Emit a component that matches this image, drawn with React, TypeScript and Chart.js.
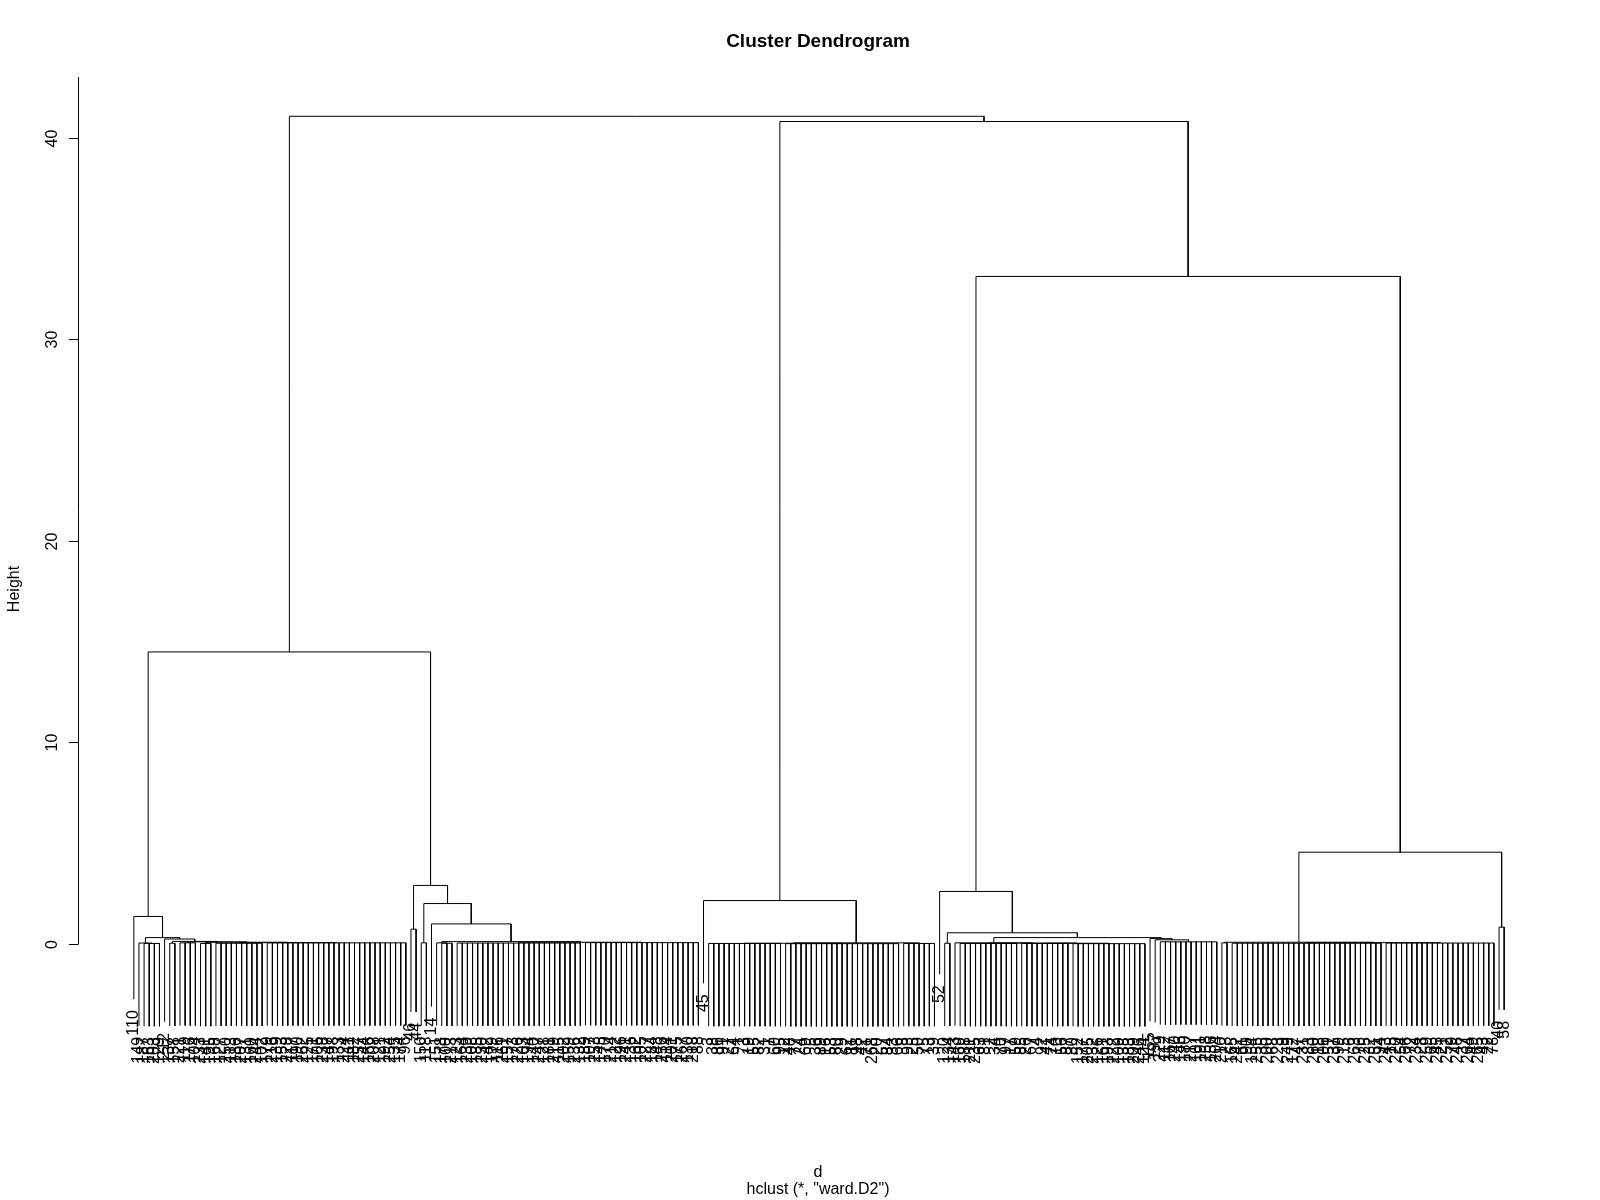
import React, { useEffect, useRef } from "react";
import { Chart, registerables } from "chart.js";

Chart.register(...registerables);

// A node is [height, ...children]; a numeric child = that many leaves hanging from the node.
type Spec = (number | Spec)[];

const yTicks = [0, 10, 20, 30, 40];
const yRange = [-7.9, 43.03];
const hangFraction = 0.1;

const titleText = "Cluster Dendrogram";
const xLabel = "d";
const subLabel = 'hclust (*, "ward.D2")';
const yLabel = "Height";

// near-zero clusters
const clusterA1: Spec = [0.04, 1, [0.02, 4]];
const clusterA3: Spec = [0.12, [0.03, 2], [0.1, [0.05, 4], [0.08, [0.02, 3], [0.06, [0.03, 10], [0.05, 28]]]]];
const clusterB: Spec = [0.11, [0.05, 1, [0.03, 3]], [0.08, [0.04, 25], [0.06, 23]]];
const clusterC: Spec = [0.05, [0.03, [0.02, 15], [0.01, 23]], [0.02, 7]];
const clusterD: Spec = [0.05, 1, [0.04, [0.02, 12], [0.03, [0.02, 10], [0.01, 15]]]];
const clusterE: Spec = [0.26, 1, [0.2, 1, [0.1, 12]]];
const clusterF: Spec = [0.08, [0.05, 2], [0.06, [0.03, 30], [0.04, 22]]];

// upper merges
const leftBranch: Spec = [14.49,
  [1.36, 1, [0.31, clusterA1, [0.24, 1, clusterA3]]],
  [2.9, [0.73, 2], [2.0, [0.05, 2], [0.99, 1, clusterB]]]];
const rightBranch: Spec = [40.82,
  [2.15, 1, clusterC],
  [33.13,
    [2.6, 1, [0.55, [0.03, 2], [0.31, clusterD, clusterE]]],
    [4.55, clusterF, [0.83, 2]]]];
const tree: Spec = [41.08, leftBranch, rightBranch];

// leaf labels, left to right
const labelsGroup1 = [110, 149, 187, 163, 203, 129, 212];
const labelsA3 = [137, 158, 221, 119, 176, 104, 233, 141, 195, 168, 127, 250, 113, 186, 207, 131, 160, 244, 102, 179, 216, 139, 153, 228, 117, 190, 262, 125, 171, 106, 238, 147, 198, 133, 224, 111, 182, 257, 144, 166, 208, 121, 192, 254, 135, 174, 96];
const labelsGroup2 = [46, 44, 150, 118, 14];
const labelsB = [151, 178, 100, 213, 123, 164, 239, 108, 185, 230, 142, 199, 116, 261, 157, 173, 226, 103, 194, 140, 247, 128, 181, 219, 115, 202, 159, 236, 132, 189, 107, 253, 145, 170, 214, 122, 196, 241, 136, 162, 105, 227, 184, 148, 256, 114, 201, 175, 267, 130, 218, 88];
const labelsGroup3 = [45];
const labelsC = [3, 38, 86, 91, 27, 64, 1, 73, 19, 55, 82, 31, 7, 60, 95, 12, 48, 77, 24, 69, 5, 36, 89, 16, 53, 80, 29, 62, 11, 98, 42, 71, 268, 20, 57, 84, 33, 66, 8, 93, 25, 50, 75, 13, 39];
const labelsGroup4 = [52, 120, 134];
const labelsD = [143, 169, 188, 211, 235, 63, 81, 2, 34, 70, 97, 17, 59, 85, 26, 67, 4, 92, 41, 74, 10, 56, 87, 30, 152, 177, 205, 232, 126, 161, 193, 222, 109, 138, 183, 209, 246, 124];
const labelsE = [155, 197, 229, 112, 167, 240, 146, 180, 217, 101, 191, 258, 156, 204];
const labelsF = [210, 23, 165, 242, 61, 90, 154, 255, 35, 200, 68, 223, 9, 249, 172, 47, 231, 83, 260, 18, 206, 51, 237, 99, 215, 6, 263, 76, 225, 32, 251, 94, 243, 15, 220, 54, 266, 72, 234, 28, 259, 65, 245, 21, 252, 79, 248, 37, 264, 49, 265, 43, 22, 78];
const labelsGroup5 = [40, 58];

const leafLabels = [
  ...labelsGroup1, ...labelsA3, ...labelsGroup2, ...labelsB, ...labelsGroup3,
  ...labelsC, ...labelsGroup4, ...labelsD, ...labelsE, ...labelsF, ...labelsGroup5,
];

interface Leaf { x: number; y: number; label: string }
interface Pt { x: number; y: number | null }

function layout(spec: Spec, labels: (number | string)[]) {
  const maxH = spec[0] as number;
  const hang = hangFraction * maxH;
  const pts: Pt[] = [];
  const leaves: Leaf[] = [];
  let counter = 0;
  const seg = (coords: [number, number][]) => {
    coords.forEach(([a, b]) => pts.push({ x: a, y: b }));
    pts.push({ x: coords[coords.length - 1][0], y: null });
  };
  const rec = (s: Spec): { x: number; h: number } => {
    const h = s[0] as number;
    const kids: { x: number; top: number }[] = [];
    for (const c of s.slice(1)) {
      if (typeof c === "number") {
        for (let k = 0; k < c; k++) {
          const idx = counter++;
          const lx = idx + 1;
          leaves.push({ x: lx, y: h - hang, label: String(labels[idx] ?? "") });
          kids.push({ x: lx, top: h - hang });
        }
      } else {
        const r = rec(c);
        kids.push({ x: r.x, top: r.h });
      }
    }
    const first = kids[0];
    const last = kids[kids.length - 1];
    seg([[first.x, first.top], [first.x, h], [last.x, h], [last.x, last.top]]);
    for (const k of kids.slice(1, -1)) seg([[k.x, h], [k.x, k.top]]);
    return { x: (first.x + last.x) / 2, h };
  };
  rec(spec);
  return { pts, leaves, n: counter };
}

const FONT = '"Liberation Sans", Arial, sans-serif';

export default function App() {
  const ref = useRef<HTMLCanvasElement | null>(null);

  useEffect(() => {
    if (!ref.current) return;
    const { pts, leaves, n } = layout(tree, leafLabels);
    const pad = 0.04 * (n - 1);

    const decorations = {
      id: "decorations",
      beforeDraw(chart: any) {
        const c = chart.ctx;
        c.save();
        c.fillStyle = "#ffffff";
        c.fillRect(0, 0, chart.width, chart.height);
        c.restore();
      },
      afterDatasetsDraw(chart: any) {
        const c: CanvasRenderingContext2D = chart.ctx;
        const { chartArea } = chart;
        const xs = chart.scales.x;
        const ys = chart.scales.y;
        c.save();
        c.strokeStyle = "#000";
        c.fillStyle = "#000";
        c.lineWidth = 1;

        // y axis
        const ax = chartArea.left - 0.5;
        c.beginPath();
        c.moveTo(ax, ys.getPixelForValue(0));
        c.lineTo(ax, chartArea.top);
        c.stroke();
        c.font = `16px ${FONT}`;
        for (const v of yTicks) {
          const py = Math.round(ys.getPixelForValue(v)) + 0.5;
          c.beginPath();
          c.moveTo(ax, py);
          c.lineTo(ax - 9.6, py);
          c.stroke();
          c.save();
          c.translate(57, py);
          c.rotate(-Math.PI / 2);
          c.textAlign = "center";
          c.textBaseline = "alphabetic";
          c.fillText(String(v), 0, 0);
          c.restore();
        }

        // leaf labels
        c.font = `16px ${FONT}`;
        for (const lf of leaves) {
          const px = xs.getPixelForValue(lf.x);
          const py = ys.getPixelForValue(lf.y) + 11;
          c.save();
          c.translate(px, py);
          c.rotate(-Math.PI / 2);
          c.textAlign = "right";
          c.textBaseline = "middle";
          c.fillText(lf.label, 0, 0);
          c.restore();
        }

        const cx = (chartArea.left + chartArea.right) / 2 - 1;
        // title
        c.font = `bold 19px ${FONT}`;
        c.textAlign = "center";
        c.textBaseline = "alphabetic";
        c.fillText(titleText, cx, 46.5);
        // x label and sub
        c.font = `16px ${FONT}`;
        c.fillText(xLabel, cx, 1176.5);
        c.fillText(subLabel, cx, 1194);
        // y label
        c.save();
        c.translate(18.5, 589);
        c.rotate(-Math.PI / 2);
        c.textAlign = "center";
        c.textBaseline = "alphabetic";
        c.fillText(yLabel, 0, 0);
        c.restore();

        c.restore();
      },
    };

    const chart = new Chart(ref.current, {
      type: "line",
      data: {
        datasets: [
          {
            data: pts as any,
            borderColor: "#000000",
            borderWidth: 1,
            pointRadius: 0,
            pointHoverRadius: 0,
            tension: 0,
            fill: false,
            spanGaps: false,
            borderCapStyle: "butt",
            clip: false as any,
          },
        ],
      },
      options: {
        responsive: false,
        animation: false,
        devicePixelRatio: 1,
        layout: { padding: { left: 79, right: 41, top: 77, bottom: 97 } },
        scales: {
          x: { type: "linear", min: 1 - pad, max: n + pad, display: false },
          y: { type: "linear", min: yRange[0], max: yRange[1], display: false },
        },
        plugins: {
          legend: { display: false },
          tooltip: { enabled: false },
          title: { display: false },
        },
        events: [],
      },
      plugins: [decorations],
    });
    return () => chart.destroy();
  }, []);

  return (
    <div style={{ position: "absolute", left: 0, top: 0, width: 1600, height: 1200, background: "#fff" }}>
      <canvas ref={ref} width={1600} height={1200} style={{ display: "block", width: 1600, height: 1200 }} />
    </div>
  );
}
